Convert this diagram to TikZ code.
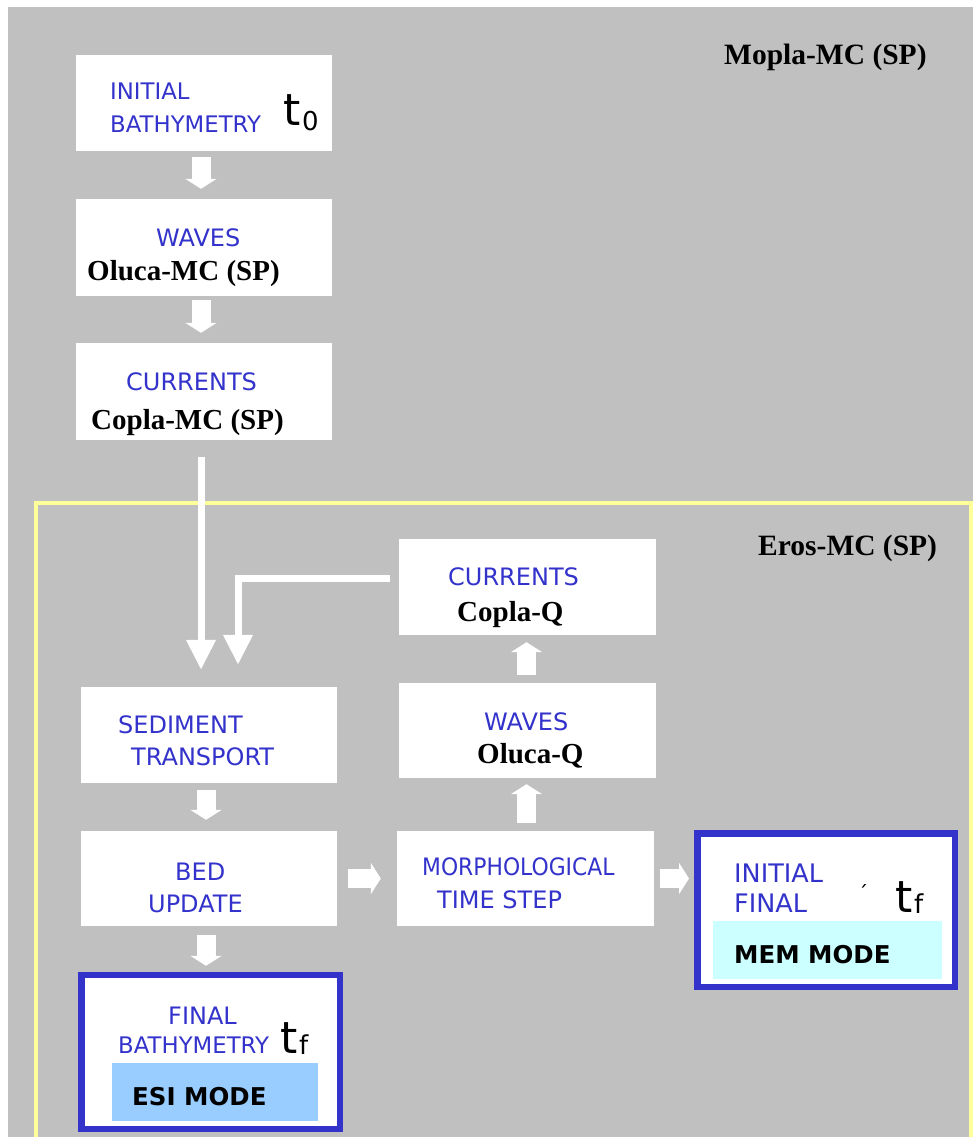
\documentclass[tikz,border=0pt]{standalone}
\usepackage{fontspec}
\usetikzlibrary{arrows.meta}
\newfontfamily\blfont{DejaVu Sans}
\newfontfamily\tmfont{Liberation Serif}
\definecolor{bggray}{HTML}{C0C0C0}
\definecolor{txtblue}{HTML}{3333CC}
\definecolor{ylw}{HTML}{FFFF99}
\definecolor{esiblue}{HTML}{99CCFF}
\definecolor{memcyan}{HTML}{CCFFFF}
\tikzset{
  box/.style={fill=white, draw=none, minimum width=256pt, minimum height=96pt, inner sep=0pt},
  endbox/.style={fill=white, draw=txtblue, line width=6.5pt, inner sep=0pt},
  modebox/.style={draw=none, inner sep=0pt},
  bltxt/.style={anchor=base west, inner sep=0pt, text=txtblue, font=\blfont\fontsize{24}{28}\selectfont},
  bltxtsm/.style={anchor=base west, inner sep=0pt, text=txtblue, font=\blfont\fontsize{22.8}{26}\selectfont},
  bltxtlg/.style={anchor=base west, inner sep=0pt, text=txtblue, font=\blfont\fontsize{25.5}{28}\selectfont},
  tmtxt/.style={anchor=base west, inner sep=0pt, text=black, font=\tmfont\bfseries\fontsize{29}{32}\selectfont},
  tmtxtlg/.style={anchor=base west, inner sep=0pt, text=black, font=\tmfont\bfseries\fontsize{29.5}{32}\selectfont},
  modetxt/.style={anchor=base west, inner sep=0pt, text=black, font=\blfont\bfseries\fontsize{24.5}{28}\selectfont},
  ttxt/.style={anchor=base west, inner sep=0pt, text=black, font=\blfont\fontsize{44}{48}\selectfont},
  subtxt/.style={anchor=base west, inner sep=0pt, text=black, font=\blfont\fontsize{26}{28}\selectfont},
  fat/.style={draw=white, line width=19pt, -{Triangle[length=10pt,width=31pt]}},
  thin/.style={draw=white, line width=7pt, -{Triangle[length=30pt,width=28pt]}},
}
\begin{document}
\begin{tikzpicture}[x=1pt,y=-1pt]
\useasboundingbox (0,0) rectangle (973,1137);
\fill[bggray] (8,7) rectangle (973,1137);
\draw[ylw, line width=3.5pt] (36,1140) -- (36,503) -- (971,503) -- (971,1140);

% top chain
\node[box] (b1) at (204,103) {};
\node[box, minimum height=97pt] (b2) at (204,247.5) {};
\node[box, minimum height=97pt] (b3) at (204,391.5) {};
% Eros
\node[box, minimum width=257pt] (cq) at (527.5,587) {};
\node[box, minimum width=257pt, minimum height=95pt] (oq) at (527.5,730.5) {};
\node[box, minimum width=257pt, minimum height=95pt] (mt) at (525.5,878.5) {};
\node[box] (st) at (209,735) {};
\node[box, minimum height=95pt] (bu) at (209,878.5) {};
\node[endbox, minimum width=258.5pt, minimum height=154pt] (fb) at (210.5,1052) {};
\node[endbox, minimum width=257.5pt, minimum height=153.5pt] (if) at (826,910) {};
\node[modebox, fill=esiblue, minimum width=206pt, minimum height=58pt] (esi) at (215,1092) {};
\node[modebox, fill=memcyan, minimum width=229pt, minimum height=58pt] (mem) at (827.5,950) {};

% texts
\node[tmtxtlg] (mopla) at (724,65) {Mopla-MC (SP)};
\node[tmtxtlg] (eros) at (758,555) {Eros-MC (SP)};

\node[bltxtsm] (b1a) at (110,100) {INITIAL};
\node[bltxtsm] (b1b) at (110,132) {BATHYMETRY};
\node[ttxt] (b1t) at (283,125) {t};
\node[subtxt] (b1s) at (302,131) {0};

\node[bltxt] (b2a) at (156,246) {WAVES};
\node[tmtxt] (b2b) at (87,280) {Oluca-MC (SP)};

\node[bltxt] (b3a) at (126,390) {CURRENTS};
\node[tmtxt] (b3b) at (91,429) {Copla-MC (SP)};

\node[bltxt] (cqa) at (448,585) {CURRENTS};
\node[tmtxt] (cqb) at (457,621) {Copla-Q};

\node[bltxt] (oqa) at (484,730) {WAVES};
\node[tmtxt] (oqb) at (477,763) {Oluca-Q};

\node[bltxt] (sta) at (118,733) {SEDIMENT};
\node[bltxt] (stb) at (131,765) {TRANSPORT};

\node[bltxt] (bua) at (175,880) {BED};
\node[bltxt] (bub) at (148,912) {UPDATE};

\node[bltxt] (mta) at (422,875) {\scalebox{0.91}[1]{MORPHOLOGICAL}};
\node[bltxt] (mtb) at (437,908) {TIME STEP};

\node[bltxtlg] (ifa) at (734,882) {INITIAL};
\node[bltxtlg] (ifb) at (734,912) {FINAL};
\node[anchor=base west, inner sep=0pt, text=black, font=\blfont\fontsize{20}{22}\selectfont] (ifc) at (858,900) {´};
\node[ttxt] (ift) at (895,912) {t};
\node[subtxt] (ifs) at (914,913) {f};
\node[modetxt] (mema) at (734,963) {MEM MODE};

\node[bltxt] (fba) at (168,1024) {FINAL};
\node[bltxtsm] (fbb) at (118,1053) {BATHYMETRY};
\node[ttxt] (fbt) at (280,1053) {t};
\node[subtxt] (fbs) at (299,1054) {f};
\node[modetxt] (esia) at (132,1105) {ESI MODE};

% fat arrows
\coordinate (a1) at ([xshift=-3pt]b1.south);
\draw[fat] ([yshift=-6pt]a1) -- ([yshift=10pt]a1 |- b2.north);
\coordinate (a2) at ([xshift=-3pt]b2.south);
\draw[fat] ([yshift=-4pt]a2) -- ([yshift=10pt]a2 |- b3.north);
\coordinate (a3) at ([xshift=-3pt]st.south);
\draw[fat] ([yshift=-7pt]a3) -- ([yshift=11pt]a3 |- bu.north);
\coordinate (a4) at ([xshift=-3pt]bu.south);
\draw[fat] ([yshift=-9pt]a4) -- ([yshift=6pt]a4 |- fb.north);
\draw[fat] ([xshift=11pt]bu.east) -- ([xshift=-16pt]mt.west);
\draw[fat] ([xshift=6pt]mt.east) -- ([xshift=-5pt]if.west |- mt.east);
\coordinate (a5) at ([xshift=1pt]mt.north);
\draw[fat] ([yshift=8pt]a5) -- ([yshift=-6pt]a5 |- oq.south);
\coordinate (a6) at ([xshift=-1pt]oq.north);
\draw[fat] ([yshift=8pt]a6) -- ([yshift=-7pt]a6 |- cq.south);

% thin arrows
\coordinate (tx) at ([xshift=-8pt]st.north);
\draw[thin] ([yshift=-17pt]tx |- b3.south) -- ([yshift=17pt]tx);
\coordinate (bend) at ([xshift=29pt]st.north |- cq.west);
\draw[thin] ([xshift=-9pt,yshift=9pt]cq.west) -- ([yshift=9pt]bend) -- ([xshift=29pt,yshift=22pt]st.north);
\end{tikzpicture}
\end{document}
